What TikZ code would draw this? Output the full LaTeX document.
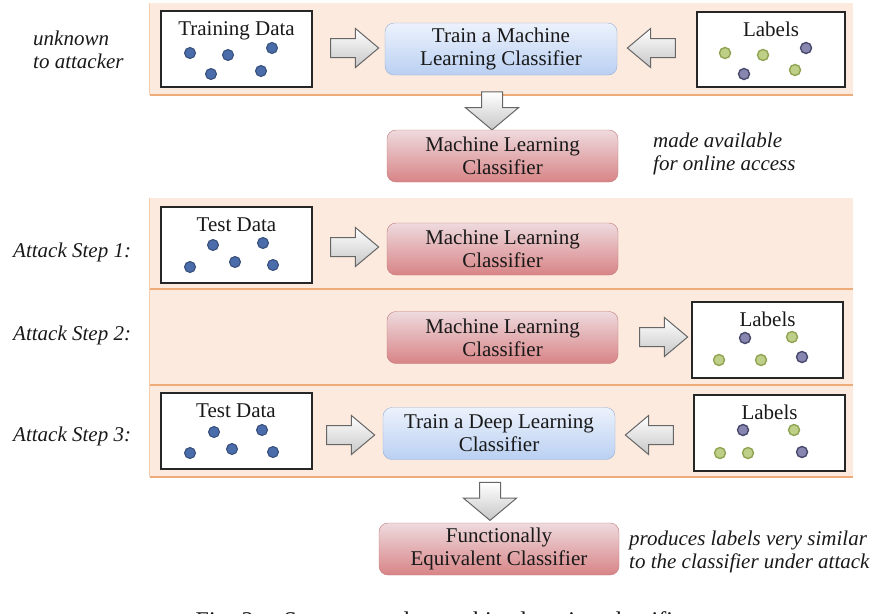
\documentclass[tikz,border=0pt]{standalone}
\usepackage{fontspec}
\setmainfont{Liberation Serif}
\definecolor{bandpeach}{RGB}{252, 234, 222}
\definecolor{bandedge}{RGB}{238, 172, 122}
\definecolor{trainblue}{RGB}{186, 208, 242}
\definecolor{trainbluetop}{RGB}{236, 242, 252}
\definecolor{trainedge}{RGB}{150, 174, 214}
\definecolor{mlred}{RGB}{216, 132, 134}
\definecolor{mlredtop}{RGB}{238, 218, 222}
\definecolor{mledge}{RGB}{192, 120, 122}
\definecolor{dotblue}{RGB}{74, 108, 170}
\definecolor{dotgreen}{RGB}{168, 192, 96}
\definecolor{dotpurple}{RGB}{104, 104, 156}
\usepackage{tikz}
\usetikzlibrary{shapes.arrows, positioning, shadows}

\begin{document}
\begin{tikzpicture}[x=1pt, y=-1pt,
  every node/.style={font=\fontsize{21}{23}\selectfont, text=black!90},
  band/.style={fill=bandpeach, minimum width=703pt, inner sep=0pt},
  databox/.style={draw=black!85, line width=2pt, fill=white, minimum width=151pt, minimum height=76pt, inner sep=0pt},
  datatitle/.style={anchor=base, inner sep=0pt},
  trainbox/.style={draw=trainedge, top color=trainbluetop, bottom color=trainblue, rounded corners=9pt, minimum width=232pt, minimum height=52pt, align=center, inner sep=2pt},
  mlbox/.style={draw=mledge, top color=mlredtop, bottom color=mlred, rounded corners=9pt, minimum width=231pt, minimum height=52pt, align=center, inner sep=2pt},
  blockarrow/.style={single arrow, draw=black!60, line width=1pt, top color=white, bottom color=black!22, inner sep=9pt, minimum height=48pt, single arrow head extend=10pt, single arrow tip angle=80},
  downarrow/.style={blockarrow, shape border rotate=270, inner sep=10pt, minimum height=38pt, single arrow head extend=16pt, single arrow tip angle=100},
  note/.style={anchor=west, align=left, font=\fontsize{21}{23}\selectfont\itshape, inner sep=0pt},
  bluedot/.style={fill=dotblue, draw=dotblue!70!black, line width=1pt},
  greendot/.style={fill=dotgreen!75!white, draw=dotgreen!85!black, line width=1.4pt},
  purpledot/.style={fill=dotpurple!80!white, draw=dotpurple!70!black, line width=1.4pt}]

  \useasboundingbox (0,0) rectangle (890,613);

  % Bands
  \node[band, minimum height=92pt] (band0) at (501.5,49) {};
  \node[band, minimum height=91pt] (band1) at (501.5,243.5) {};
  \node[band, minimum height=96pt] (band2) at (501.5,337) {};
  \node[band, minimum height=92pt] (band3) at (501.5,431) {};
  \foreach \b in {band0, band1, band2, band3} {
    \draw[bandedge, line width=2pt] (\b.south west) -- (\b.south east);
    \draw[bandedge!60, line width=1pt] (\b.south west) -- (\b.north west);
  }

  % Training of the classifier
  \node[note] (unknown) at (33,50) {unknown\\to attacker};
  \node[databox] (trdata) at (236.5,49) {};
  \node[datatitle] (trtitle) at (236.5,35) {Training Data};
  \node[blockarrow] (arrtr) at (349,48) {};
  \node[trainbox] (trainml) at (501,49) {Train a Machine\\Learning Classifier};
  \node[blockarrow, shape border rotate=180] (arrlab) at (657,48) {};
  \node[databox, minimum width=148pt, minimum height=75pt] (labels0) at (771,49.5) {};
  \node[datatitle] (labtitle0) at (771,36) {Labels};
  \node[downarrow] (arrml) at (492,106.5) {};
  \node[mlbox] (mlclass) at (502.5,156) {Machine Learning\\Classifier};
  \node[note] (online) at (653,154) {made available\\for online access};

  % Attack step 1
  \node[note] (step1) at (13,252) {Attack Step 1:};
  \node[databox] (test1) at (236.5,244.5) {};
  \node[datatitle] (testtitle1) at (236.5,231) {Test Data};
  \node[blockarrow] (arrs1) at (349,247) {};
  \node[mlbox] (mlclass1) at (502.5,249) {Machine Learning\\Classifier};

  % Attack step 2
  \node[note] (step2) at (13,335) {Attack Step 2:};
  \node[mlbox] (mlclass2) at (502.5,337.5) {Machine Learning\\Classifier};
  \node[blockarrow] (arrs2) at (658,337) {};
  \node[databox] (labels2) at (767.5,339.5) {};
  \node[datatitle] (labtitle2) at (767.5,326) {Labels};

  % Attack step 3
  \node[note] (step3) at (13,436) {Attack Step 3:};
  \node[databox] (test3) at (236,430.5) {};
  \node[datatitle] (testtitle3) at (236,417) {Test Data};
  \node[blockarrow] (arrs3a) at (345,435) {};
  \node[trainbox] (traindl) at (499,433.5) {Train a Deep Learning\\Classifier};
  \node[blockarrow, shape border rotate=180] (arrs3b) at (655,435) {};
  \node[databox] (labels3) at (769.5,432.5) {};
  \node[datatitle] (labtitle3) at (769.5,419) {Labels};
  \node[downarrow] (arrfe) at (490,497) {};
  \node[mlbox, minimum width=240pt] (equiv) at (499,549) {Functionally\\Equivalent Classifier};
  \node[note] (similar) at (629,552) {produces labels very similar\\to the classifier under attack};

  % Dots
  \foreach \p in {(190,53),(228,55),(272,48),(211,74),(261,71),
                  (213,245),(263,243),(190,267),(235,262),(273,265),
                  (214,432),(262,430),(190,453),(232,449),(273,452)}
    \path[bluedot] \p circle (5.5);
  \foreach \p in {(725,53),(763,55),(795,70),
                  (792,337),(719,360),(761,360),
                  (794,430),(720,453),(748,453)}
    \path[greendot] \p circle (5.5);
  \foreach \p in {(806,48),(744,74),
                  (745,338),(802,357),
                  (743,430),(802,452)}
    \path[purpledot] \p circle (5.5);

  % Caption, cut at the bottom edge
  \node[anchor=base, font=\fontsize{24}{26}\selectfont] (caption) at (446,628) {Fig. 2.\quad Steps to steal a machine learning classifier.};
\end{tikzpicture}
\end{document}
